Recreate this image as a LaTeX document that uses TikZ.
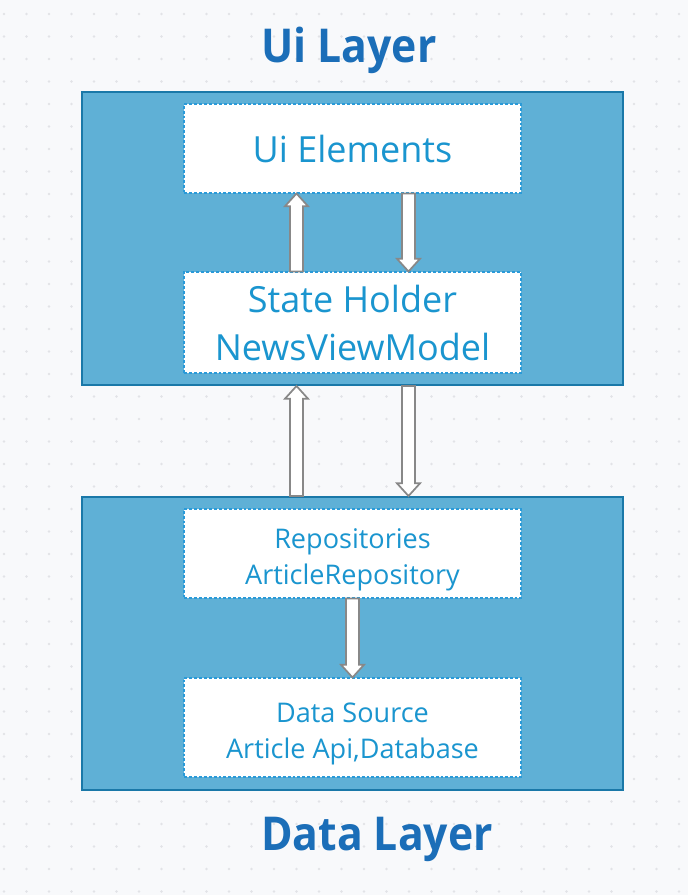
\documentclass[tikz,border=0pt]{standalone}
\usepackage{fontspec}
\setmainfont{Open Sans}
\usetikzlibrary{calc}
\definecolor{bgc}{HTML}{F8F9FB}
\definecolor{dotc}{HTML}{E2E3E7}
\definecolor{layerfill}{HTML}{5FB0D6}
\definecolor{layerline}{HTML}{1A78A8}
\definecolor{dashc}{HTML}{2A9AD8}
\definecolor{textc}{HTML}{1A95CF}
\definecolor{titlec}{HTML}{1B6EB8}
\definecolor{arrowc}{HTML}{888888}
\tikzset{
  layerbox/.style={draw=layerline, line width=1.5pt, fill=layerfill,
    minimum width=405.75pt, minimum height=219.75pt, inner sep=0pt},
  innerbox/.style={draw=dashc, line width=0.8pt, dash pattern=on 2.2pt off 1.5pt,
    fill=white, minimum width=252.75pt, inner sep=0pt, text=textc, align=center},
  bigtxt/.style={font=\fontsize{27}{36}\selectfont},
  smalltxt/.style={font=\fontsize{20.3}{27}\selectfont},
  titletxt/.style={text=titlec, font=\fontsize{35}{40}\bfseries\selectfont, inner sep=0pt,
    anchor=base, xscale=0.915, transform shape},
  blockarrow/.style={draw=arrowc, fill=white, line width=1.3pt, line join=miter,
    to path={let \p1=(\tikztostart), \p2=(\tikztotarget), \n1={sign(\y2-\y1)} in
      ({\x1-4.9pt},\y1) -- ({\x1-4.9pt},{\y2-(\n1)*9.5pt}) -- ({\x1-8.6pt},{\y2-(\n1)*9.5pt})
      -- (\x1,\y2) -- ({\x1+8.6pt},{\y2-(\n1)*9.5pt}) -- ({\x1+4.9pt},{\y2-(\n1)*9.5pt})
      -- ({\x1+4.9pt},\y1) -- cycle}}
}
\newcommand{\topstrut}{\rule{0pt}{24.4pt}}
\begin{document}
\begin{tikzpicture}[x=0.75pt,y=-0.75pt]
\useasboundingbox (0,0) rectangle (688,895);
\fill[bgc] (0,0) rectangle (688,895);
\foreach \i in {0,...,30} {
  \foreach \j in {0,...,39} {
    \fill[dotc] ({4+22.5*\i},{14+22.5*\j}) circle (1.1pt);
  }
}
% titles
\node[titletxt] (uititle) at (349,62.7) {Ui Layer};
\node[titletxt] (datatitle) at (377,850) {Data Layer};
% layers
\node[layerbox] (uilayer) at (352.5,238.5) {};
\node[layerbox] (datalayer) at (352.5,643.5) {};
% inner boxes
\node[innerbox, bigtxt, minimum height=66.75pt] (uiel) at (352.5,148.5) {Ui Elements};
\node[innerbox, bigtxt, minimum height=75.75pt] (sh) at (352.5,322.5) {State Holder\\NewsViewModel};
\node[innerbox, smalltxt, minimum height=66.75pt] (repo) at (352.5,553.5) {\topstrut Repositories\\ArticleRepository};
\node[innerbox, smalltxt, minimum height=74.25pt] (ds) at (352.5,727.5) {\topstrut Data Source\\Article Api,Database};
% arrows
\draw[blockarrow] ([xshift=-42pt]sh.north) to ([xshift=-42pt]uiel.south);
\draw[blockarrow] ([xshift=42pt]uiel.south) to ([xshift=42pt]sh.north);
\draw[blockarrow] ([xshift=-42pt]datalayer.north) to ([xshift=-42pt]uilayer.south);
\draw[blockarrow] ([xshift=42pt]uilayer.south) to ([xshift=42pt]datalayer.north);
\draw[blockarrow] (repo.south) to (ds.north);
\end{tikzpicture}
\end{document}
